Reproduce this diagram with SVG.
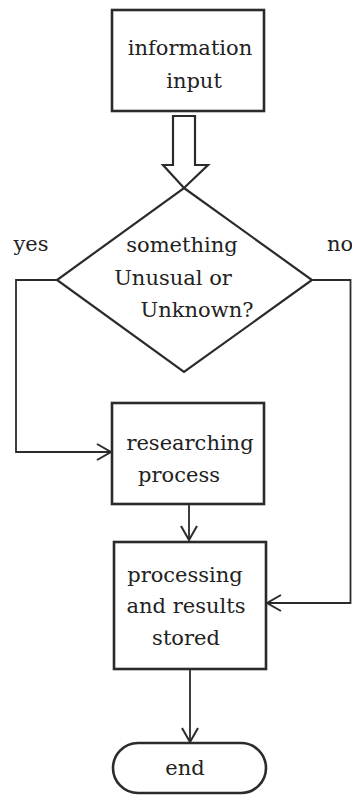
<svg xmlns="http://www.w3.org/2000/svg" width="352" height="795" viewBox="0 0 352 795">
<style>
.box{fill:#fff;stroke:#2b2b2b;stroke-width:2.6}
.dia{fill:#fff;stroke:#2b2b2b;stroke-width:2.2}
.con{fill:none;stroke:#2b2b2b;stroke-width:1.8}
.t{font-family:"DejaVu Serif","Liberation Serif",serif;font-size:21px;fill:#222;text-anchor:middle}
</style>
<defs>
<marker id="arr" markerUnits="userSpaceOnUse" markerWidth="18" markerHeight="20" viewBox="-16 -10 18 20" refX="0" refY="0" orient="auto">
<path d="M-14,-8 L0,0 L-14,8" fill="none" stroke="#2b2b2b" stroke-width="2"/>
</marker>
</defs>
<rect width="352" height="795" fill="#fff"/>
<g id="connectors">
<path class="con" d="M57,280 H16 V452 H111" marker-end="url(#arr)"/>
<path class="con" d="M312,280 H350.5 V603 H267" marker-end="url(#arr)"/>
<path class="con" d="M189,504 V540" marker-end="url(#arr)"/>
<path class="con" d="M190,669 V742" marker-end="url(#arr)"/>
</g>
<g id="n-input">
<rect class="box" x="112" y="10" width="152" height="101"/>
<text class="t" x="190" y="55">information</text>
<text class="t" x="194" y="88">input</text>
</g>
<g id="n-decision">
<polygon class="dia" points="184,188 312,280 184,372 57,280"/>
<text class="t" x="182" y="252">something</text>
<text class="t" x="173" y="285">Unusual or</text>
<text class="t" x="197" y="317">Unknown?</text>
</g>
<g id="hollow-arrow">
<path d="M173,116 H195 V165 H208 L184,188 L163,165 H173 Z" fill="#fff" stroke="#2b2b2b" stroke-width="2.2" stroke-linejoin="miter"/>
</g>
<g id="labels">
<text class="t" x="31" y="251">yes</text>
<text class="t" x="340" y="251">no</text>
</g>
<g id="n-research">
<rect class="box" x="112" y="403" width="152" height="101"/>
<text class="t" x="190" y="450">researching</text>
<text class="t" x="179" y="482">process</text>
</g>
<g id="n-store">
<rect class="box" x="114" y="542" width="152" height="127"/>
<text class="t" x="185" y="582">processing</text>
<text class="t" x="186" y="613">and results</text>
<text class="t" x="186" y="645">stored</text>
</g>
<g id="n-end">
<rect class="box" x="113" y="743" width="153" height="50" rx="25" ry="25"/>
<text class="t" x="185" y="775">end</text>
</g>
</svg>
